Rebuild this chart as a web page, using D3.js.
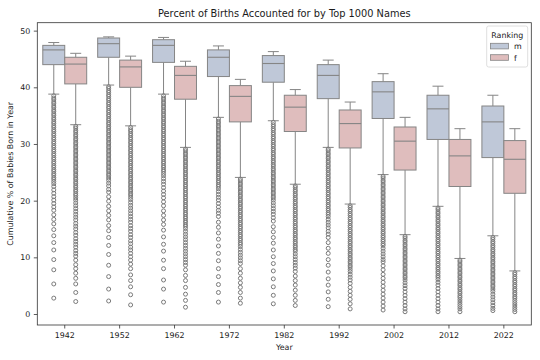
<!DOCTYPE html>
<html><head><meta charset="utf-8">
<script src="https://cdn.jsdelivr.net/npm/d3@7"></script>
<style>body{margin:0;background:#fff}svg{display:block}text{font-family:"DejaVu Sans",sans-serif;fill:#1a1a1a}</style>
</head><body><svg id="c" width="540" height="360"></svg>
<script>
const years = [1942,1952,1962,1972,1982,1992,2002,2012,2022];
const yTicks = [0,10,20,30,40,50];
const rankings = ["m","f"];

const mHigh = [47.9,48.9,48.8,47.3,46.3,44.8,42.4,40.2,38.6];
const mQ3   = [47.4,48.7,48.4,46.6,45.6,44.0,41.0,38.6,36.7];
const mMed  = [46.6,47.7,47.4,45.3,44.2,42.1,39.2,36.2,33.9];
const mQ1   = [44.0,45.3,44.4,41.9,40.9,38.0,34.5,30.8,27.6];
const mLow  = [38.8,40.4,38.8,34.7,34.1,29.4,24.6,19.0,13.8];

const fHigh = [46.0,45.5,44.6,41.4,39.6,37.4,34.7,32.7,32.7];
const fQ3   = [45.3,44.8,43.7,40.3,38.6,36.0,33.0,30.8,30.6];
const fMed  = [44.1,43.6,42.1,38.4,36.5,33.6,30.5,27.9,27.3];
const fQ1   = [40.6,40.0,37.9,33.9,32.2,29.3,25.4,22.5,21.3];
const fLow  = [33.4,33.2,29.4,24.1,22.9,19.4,14.0,9.8,7.6];

const mOut1942 = [38.5,38.1,37.8,37.4,37.1,36.7,36.4,36.0,35.7,35.3,35.0,34.6,34.3,33.9,33.6,33.2,32.9,32.5,32.2,31.8,31.5,31.1,30.8,30.4,30.1,29.7,29.4,29.0,28.7,28.3,28.0,27.6,27.3,26.9,26.6,26.2,25.9,25.5,25.2,24.8,24.5,24.1,23.8,23.4,23.0,22.5,21.9,21.3,20.7,20.1,19.5,18.9,18.3,17.5,16.7,15.9,14.9,13.8,12.6,11.3,9.6,7.8,5.3,2.8];
const fOut1942 = [33.1,32.8,32.4,32.1,31.7,31.4,31.0,30.7,30.3,30.0,29.6,29.3,28.9,28.6,28.2,27.9,27.5,27.2,26.8,26.5,26.1,25.8,25.4,25.1,24.7,24.4,24.0,23.7,23.3,23.0,22.6,22.3,21.9,21.6,21.2,20.9,20.5,20.1,19.6,19.1,18.6,18.1,17.6,17.1,16.6,16.0,15.5,15.0,14.4,13.9,13.3,12.8,12.3,11.8,11.2,10.7,10.2,9.5,8.7,8.0,7.2,6.3,5.3,3.8,2.2];
const mOut1952 = [40.1,39.8,39.4,39.1,38.7,38.4,38.0,37.7,37.3,37.0,36.6,36.3,35.9,35.6,35.2,34.9,34.5,34.2,33.8,33.5,33.1,32.8,32.4,32.1,31.7,31.4,31.0,30.7,30.3,30.0,29.6,29.3,28.9,28.6,28.2,27.9,27.5,27.2,26.8,26.5,26.1,25.8,25.4,25.1,24.7,24.4,24.0,23.6,23.1,22.6,22.0,21.5,20.7,19.9,19.0,18.2,17.4,16.6,15.6,14.7,13.5,12.1,10.5,8.6,6.6,4.4,2.3];
const fOut1952 = [32.9,32.5,32.2,31.8,31.5,31.1,30.8,30.4,30.1,29.7,29.4,29.0,28.7,28.3,28.0,27.6,27.3,26.9,26.6,26.2,25.9,25.5,25.2,24.8,24.5,24.1,23.8,23.4,23.1,22.7,22.4,22.0,21.7,21.3,21.0,20.6,20.2,19.7,19.2,18.7,18.2,17.7,17.2,16.7,16.2,15.6,15.1,14.6,14.0,13.5,12.9,12.4,11.8,11.3,10.7,10.1,9.5,8.8,8.0,6.9,5.9,4.8,3.4,1.6];
const mOut1962 = [38.5,38.1,37.8,37.4,37.1,36.7,36.4,36.0,35.7,35.3,35.0,34.6,34.3,33.9,33.6,33.2,32.9,32.5,32.2,31.8,31.5,31.1,30.8,30.4,30.1,29.7,29.4,29.0,28.7,28.3,28.0,27.6,27.3,26.9,26.6,26.2,25.9,25.5,25.2,24.8,24.4,23.9,23.4,22.9,22.3,21.7,21.1,20.5,19.8,19.1,18.2,17.4,16.6,15.8,14.8,13.6,12.3,11.1,9.5,8.0,6.0,4.4,2.1];
const fOut1962 = [29.1,28.8,28.4,28.1,27.7,27.4,27.0,26.7,26.3,26.0,25.6,25.3,24.9,24.6,24.2,23.9,23.5,23.2,22.8,22.5,22.1,21.8,21.4,21.1,20.7,20.4,20.0,19.7,19.3,19.0,18.6,18.3,17.9,17.6,17.2,16.9,16.5,16.2,15.8,15.5,15.1,14.6,14.1,13.6,13.1,12.6,12.1,11.6,11.1,10.6,10.1,9.6,9.1,8.6,7.8,6.8,5.9,4.7,3.5,2.4,1.2];
const mOut1972 = [34.4,34.0,33.7,33.3,33.0,32.6,32.3,31.9,31.6,31.2,30.9,30.5,30.2,29.8,29.5,29.1,28.8,28.4,28.1,27.7,27.4,27.0,26.7,26.3,26.0,25.6,25.3,24.9,24.6,24.2,23.9,23.5,23.2,22.8,22.5,22.1,21.6,21.1,20.6,20.1,19.5,18.9,18.3,17.8,17.2,16.2,15.3,14.3,13.2,12.0,10.7,9.4,8.0,6.6,5.2,3.8,2.1];
const fOut1972 = [23.8,23.5,23.1,22.8,22.4,22.1,21.7,21.4,21.0,20.7,20.3,20.0,19.6,19.3,18.9,18.6,18.2,17.9,17.5,17.2,16.8,16.5,16.1,15.8,15.4,15.1,14.7,14.4,14.0,13.7,13.3,13.0,12.6,12.3,11.9,11.4,10.9,10.4,9.9,9.4,8.9,8.0,7.2,6.3,5.5,4.7,3.8,2.8,1.9];
const mOut1982 = [33.8,33.4,33.1,32.7,32.4,32.0,31.7,31.3,31.0,30.6,30.3,29.9,29.6,29.2,28.9,28.5,28.2,27.8,27.5,27.1,26.8,26.4,26.1,25.7,25.4,25.0,24.7,24.3,24.0,23.6,23.3,22.9,22.6,22.2,21.9,21.5,21.2,20.8,20.5,20.1,19.6,19.1,18.6,18.1,17.6,17.0,16.4,15.4,14.5,13.5,12.5,11.3,10.1,8.9,7.6,6.2,4.8,3.3,1.8];
const fOut1982 = [22.6,22.3,21.9,21.6,21.2,20.9,20.5,20.2,19.8,19.5,19.1,18.8,18.4,18.1,17.7,17.4,17.0,16.7,16.3,16.0,15.6,15.3,14.9,14.6,14.2,13.9,13.5,13.2,12.8,12.5,12.1,11.8,11.4,11.1,10.6,10.1,9.6,9.1,8.6,8.1,7.5,6.7,5.9,5.1,4.2,3.3,2.4,1.5];
const mOut1992 = [29.1,28.8,28.4,28.1,27.7,27.4,27.0,26.7,26.3,26.0,25.6,25.3,24.9,24.6,24.2,23.9,23.5,23.2,22.8,22.5,22.1,21.8,21.4,21.1,20.7,20.4,20.0,19.7,19.3,19.0,18.6,18.3,17.9,17.6,17.2,16.7,16.2,15.7,15.2,14.6,14.1,13.5,12.6,11.6,10.7,9.6,8.6,7.4,6.2,5.1,3.9,2.6,1.3];
const fOut1992 = [19.1,18.8,18.4,18.1,17.7,17.4,17.0,16.7,16.3,16.0,15.6,15.3,14.9,14.6,14.2,13.9,13.5,13.2,12.8,12.5,12.1,11.8,11.4,11.1,10.7,10.4,10.0,9.7,9.3,9.0,8.6,8.3,7.9,7.5,7.0,6.5,6.0,5.4,4.7,4.0,3.3,2.6,1.8,0.9];
const mOut2002 = [24.3,24.0,23.6,23.3,22.9,22.6,22.2,21.9,21.5,21.2,20.8,20.5,20.1,19.8,19.4,19.1,18.7,18.4,18.0,17.7,17.3,17.0,16.6,16.3,15.9,15.6,15.2,14.9,14.5,14.2,13.8,13.5,13.1,12.8,12.4,12.1,11.6,11.1,10.6,10.1,9.6,9.2,8.5,7.8,7.0,6.3,5.6,4.9,4.2,3.5,2.8,2.1,1.4,0.7];
const fOut2002 = [13.7,13.4,13.0,12.7,12.3,12.0,11.6,11.3,10.9,10.6,10.2,9.9,9.5,9.2,8.8,8.5,8.1,7.8,7.4,7.1,6.7,6.4,6.0,5.5,5.0,4.5,3.9,3.3,2.7,2.1,1.5,0.9,0.4];
const mOut2012 = [18.7,18.4,18.0,17.7,17.3,17.0,16.6,16.3,15.9,15.6,15.2,14.9,14.5,14.2,13.8,13.5,13.1,12.8,12.4,12.1,11.7,11.4,11.0,10.7,10.3,10.0,9.6,9.3,8.9,8.6,8.2,7.9,7.5,7.2,6.8,6.5,6.1,5.6,5.1,4.5,3.9,3.3,2.7,2.1,1.5,0.9,0.4];
const fOut2012 = [9.5,9.2,8.8,8.5,8.1,7.8,7.4,7.1,6.7,6.4,6.0,5.7,5.3,5.0,4.6,4.3,3.9,3.6,3.2,2.9,2.5,2.1,1.7,1.3,0.9,0.4];
const mOut2022 = [13.5,13.2,12.8,12.5,12.1,11.8,11.4,11.1,10.7,10.4,10.0,9.7,9.3,9.0,8.6,8.3,7.9,7.6,7.2,6.9,6.5,6.2,5.8,5.5,5.1,4.8,4.4,4.0,3.5,3.0,2.5,2.0,1.5,1.0,0.6];
const fOut2022 = [7.3,7.0,6.6,6.3,5.9,5.6,5.2,4.9,4.5,4.2,3.8,3.5,3.1,2.8,2.4,2.0,1.6,1.2,0.8,0.4];

const mOutliers = [mOut1942,mOut1952,mOut1962,mOut1972,mOut1982,mOut1992,mOut2002,mOut2012,mOut2022];
const fOutliers = [fOut1942,fOut1952,fOut1962,fOut1972,fOut1982,fOut1992,fOut2002,fOut2012,fOut2022];

const colors = {m:"#bfc8d8", f:"#dfbdbd"};
const edge = "#858585";

const L=37.3, R=531.3, T=22.7, B=325;
const svg = d3.select("#c");
const x = d3.scaleBand().domain(years).range([L,R]).padding(0);
const sub = d3.scaleBand().domain(rankings).range([0,x.bandwidth()]).paddingOuter(0.25).paddingInner(0);
const y = d3.scaleLinear().domain([-1.94,51.4]).range([B,T]);

const stats = [];
years.forEach((yr,i)=>{
  stats.push({year:yr,r:"m",low:mLow[i],q1:mQ1[i],med:mMed[i],q3:mQ3[i],high:mHigh[i],out:mOutliers[i]});
  stats.push({year:yr,r:"f",low:fLow[i],q1:fQ1[i],med:fMed[i],q3:fQ3[i],high:fHigh[i],out:fOutliers[i]});
});

const bw = sub.bandwidth();
const g = svg.append("g");
stats.forEach(d=>{
  const x0 = x(d.year)+sub(d.r);
  const cx = x0+bw/2;
  const cw = bw/2;
  g.append("line").attr("x1",cx).attr("x2",cx).attr("y1",y(d.q3)).attr("y2",y(d.high)).attr("stroke",edge).attr("stroke-width",1);
  g.append("line").attr("x1",cx).attr("x2",cx).attr("y1",y(d.q1)).attr("y2",y(d.low)).attr("stroke",edge).attr("stroke-width",1);
  g.append("line").attr("x1",cx-cw/2).attr("x2",cx+cw/2).attr("y1",y(d.high)).attr("y2",y(d.high)).attr("stroke",edge).attr("stroke-width",1);
  g.append("line").attr("x1",cx-cw/2).attr("x2",cx+cw/2).attr("y1",y(d.low)).attr("y2",y(d.low)).attr("stroke",edge).attr("stroke-width",1);
  g.append("rect").attr("x",x0).attr("width",bw).attr("y",y(d.q3)).attr("height",y(d.q1)-y(d.q3))
    .attr("fill",colors[d.r]).attr("stroke",edge).attr("stroke-width",1);
  g.append("line").attr("x1",x0).attr("x2",x0+bw).attr("y1",y(d.med)).attr("y2",y(d.med)).attr("stroke",edge).attr("stroke-width",1.1);
  g.selectAll(null).data(d.out).enter().append("circle")
    .attr("cx",cx).attr("cy",v=>y(v)).attr("r",2.0)
    .attr("fill","none").attr("stroke","#7a7a7a").attr("stroke-width",1);
});

const yAxis = d3.axisLeft(y).tickValues(yTicks).tickSize(3.5).tickPadding(3.5);
const ya = svg.append("g").attr("transform",`translate(${L},0)`).call(yAxis);
const xAxis = d3.axisBottom(x).tickSize(3.5).tickPadding(3.5);
const xa = svg.append("g").attr("transform",`translate(0,${B})`).call(xAxis);
[ya,xa].forEach(a=>{
  a.select(".domain").remove();
  a.selectAll(".tick line").attr("stroke","#333").attr("stroke-width",0.8);
  a.selectAll(".tick text").attr("font-size","7.9px").attr("font-family","DejaVu Sans").attr("fill","#222");
});
svg.append("rect").attr("x",L).attr("y",T).attr("width",R-L).attr("height",B-T)
  .attr("fill","none").attr("stroke","#333").attr("stroke-width",0.8);

svg.append("text").attr("x",(L+R)/2).attr("y",16.5).attr("text-anchor","middle").attr("font-size","9.8px").text("Percent of Births Accounted for by Top 1000 Names");
svg.append("text").attr("x",(L+R)/2).attr("y",350).attr("text-anchor","middle").attr("font-size","7.9px").text("Year");
svg.append("text").attr("transform",`translate(13,${(T+B)/2}) rotate(-90)`).attr("text-anchor","middle").attr("font-size","7.9px").text("Cumulative % of Babies Born in Year");

const lg = svg.append("g");
lg.append("rect").attr("x",486.7).attr("y",26).attr("width",41).attr("height",41).attr("rx",2)
  .attr("fill","#fff").attr("fill-opacity",0.8).attr("stroke","#d6d6d6").attr("stroke-width",0.8);
lg.append("text").attr("x",507.2).attr("y",37.8).attr("text-anchor","middle").attr("font-size","7.9px").text("Ranking");
rankings.forEach((r,i)=>{
  lg.append("rect").attr("x",490.5).attr("y",43.3+i*11.4).attr("width",18).attr("height",5.6)
    .attr("fill",colors[r]).attr("stroke",edge).attr("stroke-width",0.8);
  lg.append("text").attr("x",514).attr("y",49.2+i*11.4).attr("font-size","7.9px").text(r);
});
</script></body></html>
